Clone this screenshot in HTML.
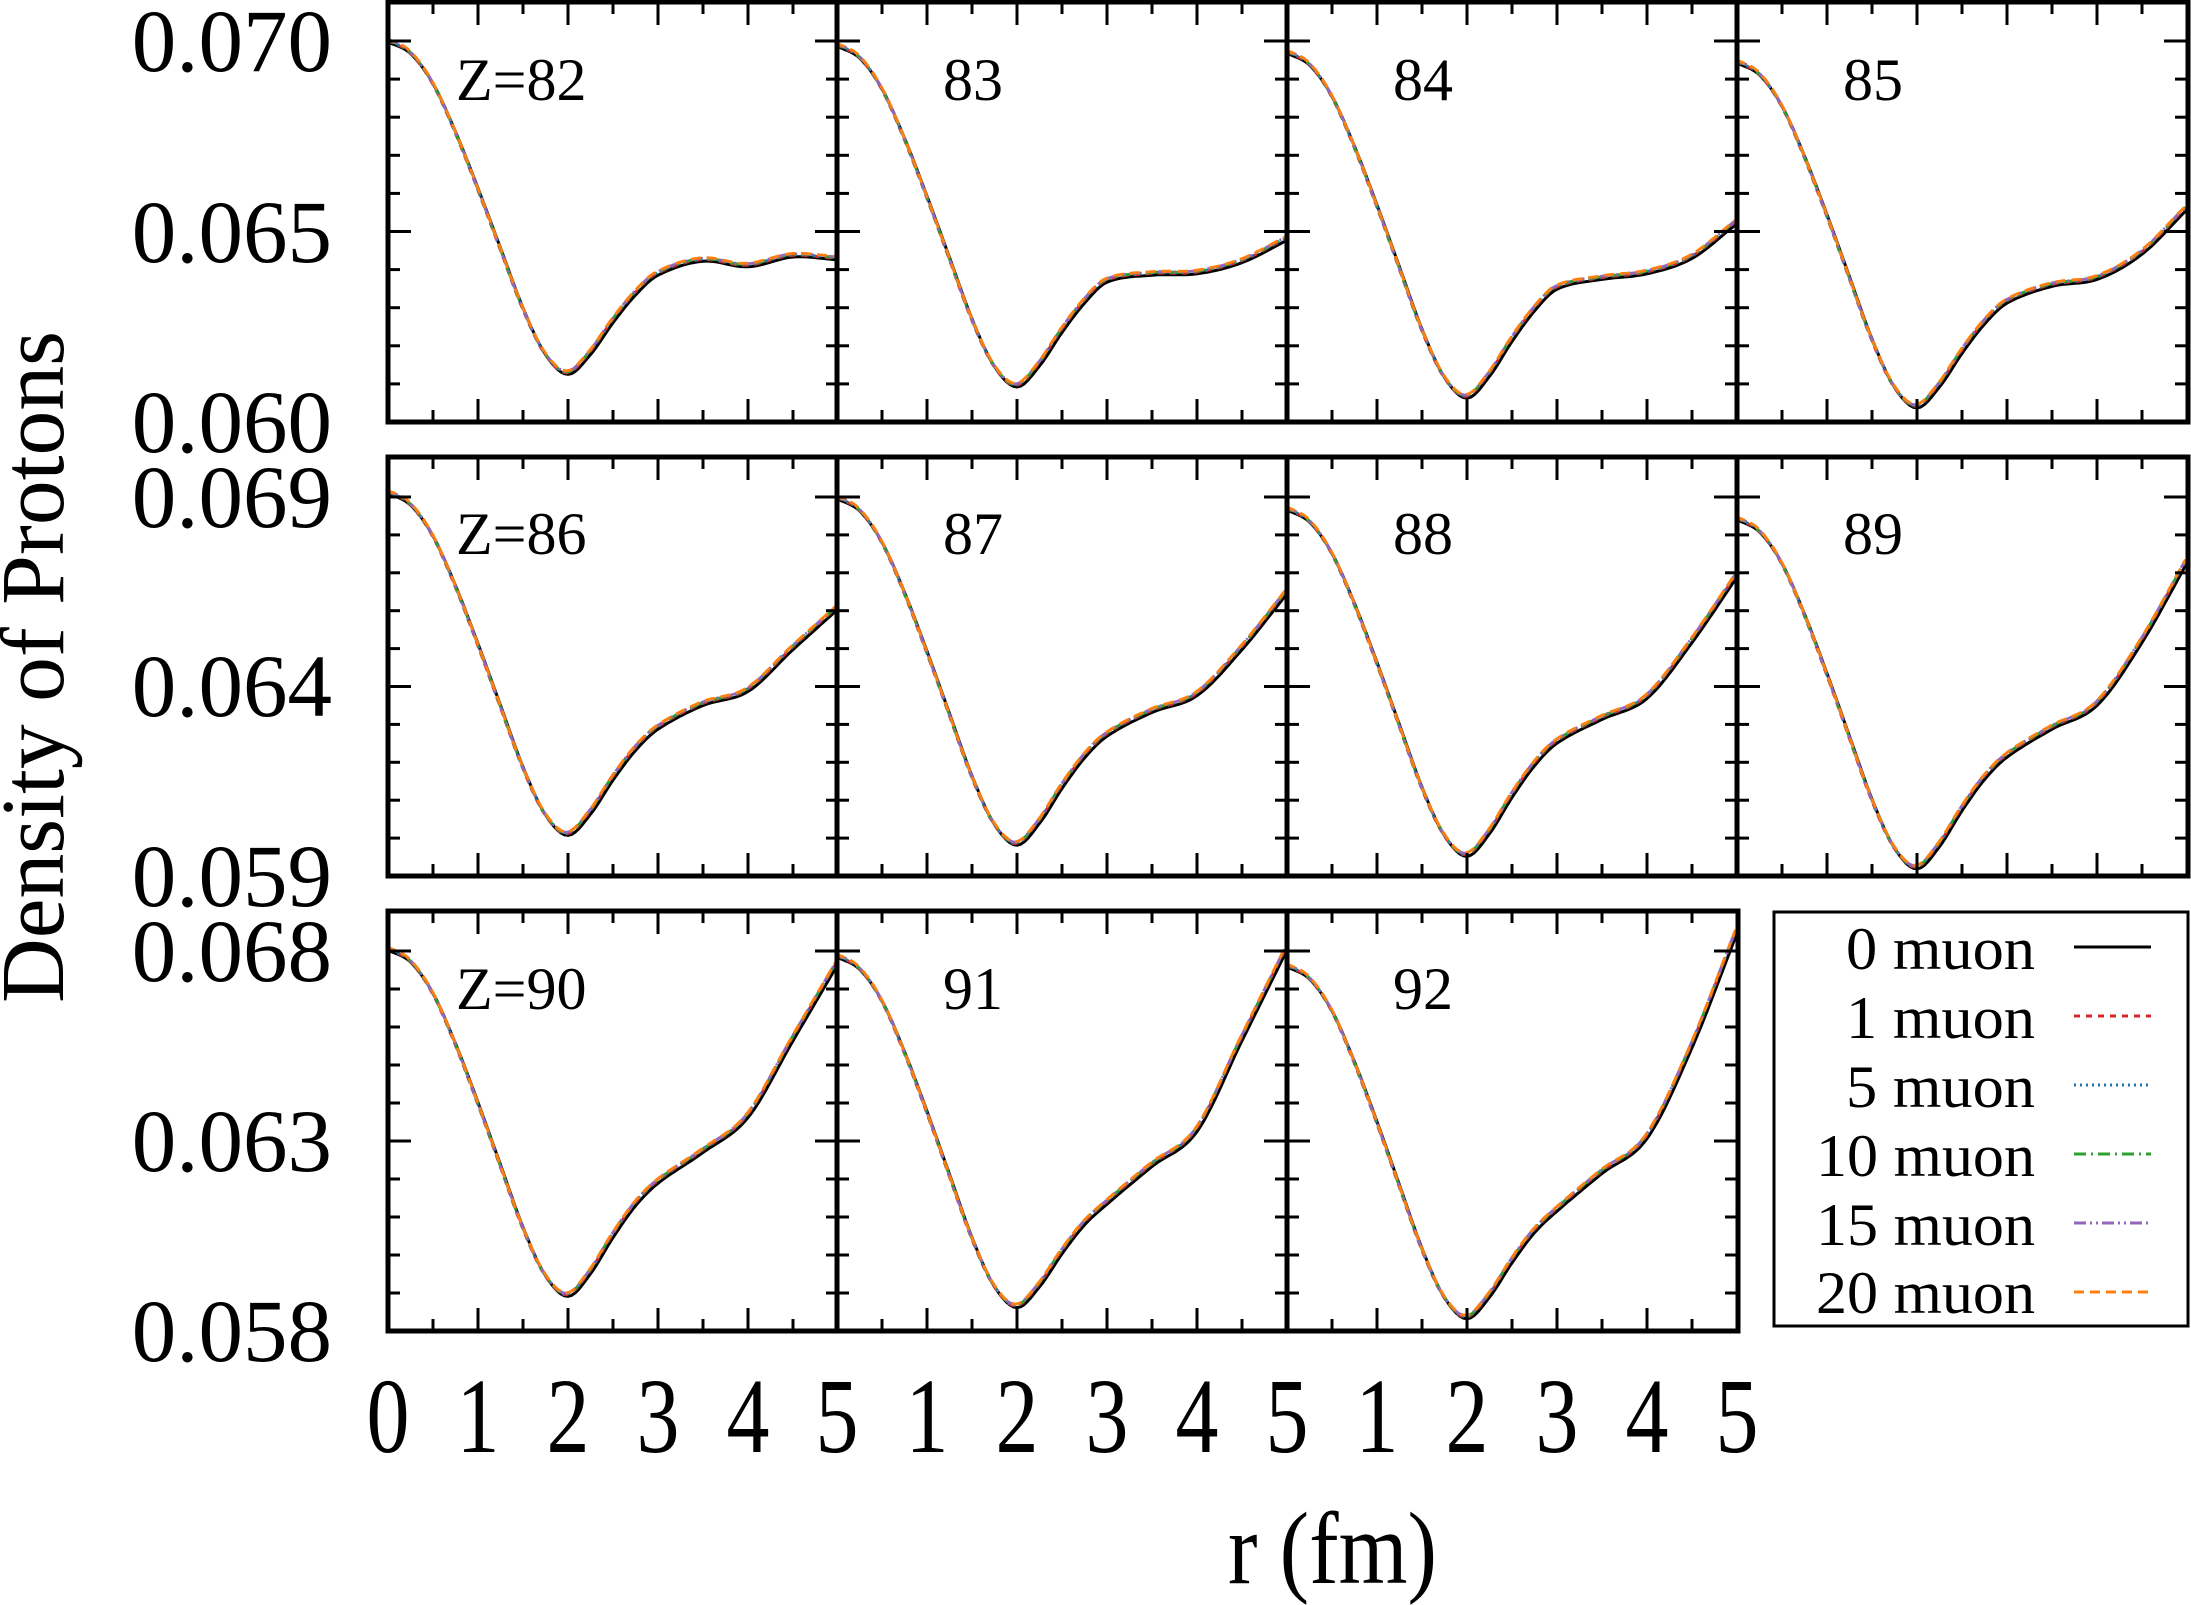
<!DOCTYPE html>
<html><head><meta charset="utf-8"><style>
html,body{margin:0;padding:0;background:#fff;}
svg{display:block;font-family:"Liberation Serif",serif;}
</style></head><body>
<svg id="s" width="2191" height="1605" viewBox="0 0 2191 1605" xmlns="http://www.w3.org/2000/svg">
<g id="curves"></g>
<g id="ticks" stroke="#000" stroke-width="3"></g>
<g fill="none" stroke="#000" stroke-width="5">
<rect x="388" y="2" width="1800" height="420"/>
<rect x="388" y="457" width="1800" height="419"/>
<rect x="388" y="911" width="1350" height="420"/>
<line x1="837" y1="2" x2="837" y2="422"/><line x1="1287" y1="2" x2="1287" y2="422"/><line x1="1737" y1="2" x2="1737" y2="422"/>
<line x1="837" y1="457" x2="837" y2="876"/><line x1="1287" y1="457" x2="1287" y2="876"/><line x1="1737" y1="457" x2="1737" y2="876"/>
<line x1="837" y1="911" x2="837" y2="1331"/><line x1="1287" y1="911" x2="1287" y2="1331"/>
</g>
<g font-size="89" text-anchor="end" fill="#000">
<text x="332" y="71">0.070</text><text x="332" y="262">0.065</text><text x="332" y="452">0.060</text>
<text x="332" y="527">0.069</text><text x="332" y="716">0.064</text><text x="332" y="906">0.059</text>
<text x="332" y="981">0.068</text><text x="332" y="1171">0.063</text><text x="332" y="1361">0.058</text>
</g>
<g font-size="60" fill="#000">
<text x="456" y="100">Z=82</text><text x="943" y="100">83</text><text x="1393" y="100">84</text><text x="1843" y="100">85</text>
<text x="456" y="554">Z=86</text><text x="943" y="554">87</text><text x="1393" y="554">88</text><text x="1843" y="554">89</text>
<text x="456" y="1009">Z=90</text><text x="943" y="1009">91</text><text x="1393" y="1009">92</text>
</g>
<g font-size="86" text-anchor="middle" fill="#000" transform="translate(0,1452) scale(1,1.25) translate(0,-1452)">
<text x="388" y="1452">0</text><text x="478" y="1452">1</text><text x="568" y="1452">2</text><text x="658" y="1452">3</text><text x="748" y="1452">4</text><text x="837" y="1452">5</text>
<text x="927" y="1452">1</text><text x="1017" y="1452">2</text><text x="1107" y="1452">3</text><text x="1197" y="1452">4</text><text x="1287" y="1452">5</text>
<text x="1377" y="1452">1</text><text x="1467" y="1452">2</text><text x="1557" y="1452">3</text><text x="1647" y="1452">4</text><text x="1737" y="1452">5</text>
</g>
<text x="1228" y="1583" font-size="89" textLength="209" lengthAdjust="spacingAndGlyphs" transform="translate(0,1583) scale(1,1.15) translate(0,-1583)">r (fm)</text>
<text transform="translate(63,667) rotate(-90)" text-anchor="middle" font-size="90" textLength="672" lengthAdjust="spacingAndGlyphs">Density of Protons</text>
<rect x="1774" y="912" width="414" height="414" fill="#fff" stroke="#000" stroke-width="3"/>
<g font-size="60" text-anchor="end" fill="#000">
<text x="2035" y="969" textLength="189" lengthAdjust="spacingAndGlyphs">0 muon</text>
<text x="2035" y="1038" textLength="189" lengthAdjust="spacingAndGlyphs">1 muon</text>
<text x="2035" y="1107" textLength="189" lengthAdjust="spacingAndGlyphs">5 muon</text>
<text x="2035" y="1176" textLength="219" lengthAdjust="spacingAndGlyphs">10 muon</text>
<text x="2035" y="1245" textLength="219" lengthAdjust="spacingAndGlyphs">15 muon</text>
<text x="2035" y="1313" textLength="219" lengthAdjust="spacingAndGlyphs">20 muon</text>
</g>
<g stroke-width="3" fill="none">
<line x1="2074" y1="947" x2="2151" y2="947" stroke="#000"/>
<line x1="2074" y1="1016" x2="2151" y2="1016" stroke="#d62728" stroke-dasharray="6,6"/>
<line x1="2074" y1="1085" x2="2151" y2="1085" stroke="#1f77b4" stroke-dasharray="2,4"/>
<line x1="2074" y1="1154" x2="2151" y2="1154" stroke="#2ca02c" stroke-dasharray="12,5,2,5"/>
<line x1="2074" y1="1223" x2="2151" y2="1223" stroke="#9467bd" stroke-dasharray="12,4,2,4,2,4"/>
<line x1="2074" y1="1292" x2="2151" y2="1292" stroke="#ff7f0e" stroke-dasharray="10,6"/>
</g>
</svg>
<script>
(function(){
var NS="http://www.w3.org/2000/svg";
var cols=[388,837,1287,1737], W=450;
var rows=[[2,422,0.060,38100,[0.060,0.065,0.070]],[457,876,0.059,37900,[0.059,0.064,0.069]],[911,1331,0.058,38000,[0.058,0.063,0.068]]];
var tk=document.getElementById('ticks'), cv=document.getElementById('curves');
function ln(x1,y1,x2,y2){var l=document.createElementNS(NS,'line');l.setAttribute('x1',x1);l.setAttribute('y1',y1);l.setAttribute('x2',x2);l.setAttribute('y2',y2);tk.appendChild(l);}
for(var ri=0;ri<3;ri++){
 var R=rows[ri], nc= ri==2?3:4;
 for(var ci=0;ci<nc;ci++){
  var x0=cols[ci];
  for(var k=1;k<10;k++){var x=x0+k*45, L=(k%2==0)?23:12; ln(x,R[0],x,R[0]+L); ln(x,R[1],x,R[1]-L);}
  for(var v=0;v<12;v++){var val=R[2]+v*0.001, y=R[1]-v*0.001*R[3]; if(y<R[0]+3||y>R[1]-3)continue;
   var maj=R[4].some(function(m){return Math.abs(m-val)<1e-6;}); var L=maj?23:12;
   ln(x0,y,x0+L,y); ln(x0+W,y,x0+W-L,y);}
 }
}
var f=[0,0.035,0.125,0.27,0.44,0.62,0.80,0.94,1.0];
function keys(s,m,y3,y35,y4,y45,y5){
 var p=[];for(var i=0;i<9;i++)p.push([i*0.25,s+(m-s)*f[i]]);
 p.push([2.25,m-(m-y3)*0.2]);p.push([2.5,m-(m-y3)*0.52]);p.push([2.75,m-(m-y3)*0.8]);
 p.push([3,y3]);p.push([3.5,y35]);p.push([4,y4]);p.push([4.5,y45]);p.push([5,y5]);return p;}
var P=[
 [0,0,keys(30,268,197,187,191,184,186)],
 [1,0,keys(33,277,202,197,196,188,172)],
 [2,0,keys(38,285,207,200,196,185,160)],
 [3,0,keys(45,292,217,205,200,182,150)],
 [0,1,keys(353,598,522,505,495,465,436)],
 [1,1,keys(357,605,527,510,498,465,425)],
 [2,1,keys(365,613,532,515,500,460,413)],
 [3,1,keys(372,622,542,522,505,460,403)],
 [0,2,keys(680,928,847,825,800,745,690)],
 [1,2,keys(685,936,862,835,810,745,680)],
 [2,2,keys(692,944,867,840,815,750,668)]];
function interp(p,r){
 var i=0;while(i<p.length-2&&p[i+1][0]<r)i++;
 var p0=p[Math.max(i-1,0)],p1=p[i],p2=p[i+1],p3=p[Math.min(i+2,p.length-1)];
 var t=(r-p1[0])/(p2[0]-p1[0]);
 var m1=(p2[1]-p0[1])/(p2[0]-p0[0])*(p2[0]-p1[0]), m2=(p3[1]-p1[1])/(p3[0]-p1[0])*(p2[0]-p1[0]);
 var t2=t*t,t3=t2*t;
 return (2*t3-3*t2+1)*p1[1]+(t3-2*t2+t)*m1+(-2*t3+3*t2)*p2[1]+(t3-t2)*m2;}
var S=[["#000","",0],["#d62728","6,6",-1.5],["#1f77b4","2,4",-2],["#2ca02c","12,5,2,5",-2.5],["#9467bd","12,4,2,4,2,4",-3],["#ff7f0e","10,6",-3.5]];
P.forEach(function(pp){
 var x0=cols[pp[0]], p=pp[2];
 for(var si=0;si<S.length;si++){
  var d="";for(var r=0;r<=5.0001;r+=0.04){var y=interp(p,Math.min(r,5))*1.397+S[si][2];var x=x0+r*90-(si?1.5:0);d+=(r==0?"M":"L")+x.toFixed(1)+","+y.toFixed(1);}
  var e=document.createElementNS(NS,'path');e.setAttribute('d',d);e.setAttribute('fill','none');e.setAttribute('stroke',S[si][0]);e.setAttribute('stroke-width',si?2.8:3);
  if(S[si][1])e.setAttribute('stroke-dasharray',S[si][1]);cv.appendChild(e);}
});
})();
</script>
</body></html>
